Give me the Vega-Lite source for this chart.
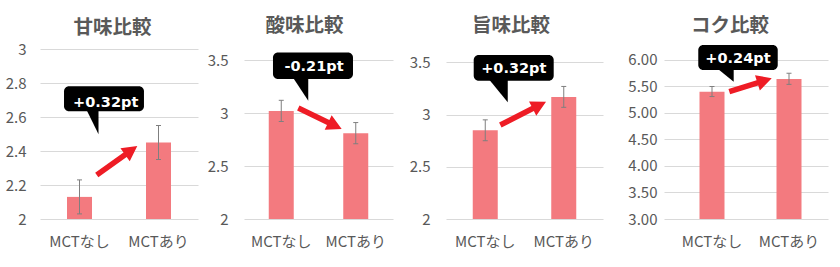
{
  "$schema": "https://vega.github.io/schema/vega-lite/v6.json",
  "padding": {"left": 5, "top": 15, "right": 5, "bottom": 0},
  "spacing": 16,
  "hconcat": [
    {
      "hconcat": [
        {
          "width": 158, "height": 179,
          "title": {"text": "甘味比較", "dx": -6.5, "dy": 2.5},
          "resolve": {"scale": {"x": "independent"}},
          "layer": [
            {
              "data": {"values": [
                {"group": "MCTなし", "mean": 2.13, "lo": 2.03, "hi": 2.23},
                {"group": "MCTあり", "mean": 2.45, "lo": 2.35, "hi": 2.55}
              ]},
              "encoding": {"x": {"field": "group", "type": "nominal", "sort": ["MCTなし", "MCTあり"], "title": null, "scale": {"paddingInner": 0, "paddingOuter": 0}}},
              "layer": [
                {"mark": {"type": "bar", "width": 25, "color": "#F37A7F"},
                 "encoding": {"y": {"field": "mean", "type": "quantitative", "title": null, "scale": {"domain": [2, 3.053], "nice": false, "zero": false}, "axis": {"values": [2, 2.2, 2.4, 2.6, 2.8, 3], "tickCount": 20, "format": "~g", "labelPadding": 14}}, "y2": {"datum": 2}}},
                {"mark": {"type": "rule", "color": "#7F7F7F", "strokeWidth": 1},
                 "encoding": {"y": {"field": "lo", "type": "quantitative", "title": null, "scale": {"domain": [2, 3.053], "nice": false, "zero": false}}, "y2": {"field": "hi"}}},
                {"mark": {"type": "tick", "color": "#7F7F7F", "size": 5, "thickness": 1, "opacity": 1},
                 "encoding": {"y": {"field": "lo", "type": "quantitative", "title": null, "scale": {"domain": [2, 3.053], "nice": false, "zero": false}}}},
                {"mark": {"type": "tick", "color": "#7F7F7F", "size": 5, "thickness": 1, "opacity": 1},
                 "encoding": {"y": {"field": "hi", "type": "quantitative", "title": null, "scale": {"domain": [2, 3.053], "nice": false, "zero": false}}}}
              ]
            },
            {
              "data": {"values": [
                {"label": "+0.32pt", "bx1": 0.304, "bx2": 1.316, "by1": 2.634, "by2": 2.781, "tx": 0.832, "ty": 2.659, "px": 0.666, "py": 2.566, "ax": 0.975, "ay": 2.344}
              ]},
              "layer": [
                {"mark": {"type": "rect", "color": "#000000", "cornerRadius": 5},
                 "encoding": {"x": {"field": "bx1", "type": "quantitative", "axis": null, "scale": {"domain": [0, 2], "nice": false, "zero": false}}, "x2": {"field": "bx2"}, "y": {"field": "by1", "type": "quantitative", "title": null, "scale": {"domain": [2, 3.053], "nice": false, "zero": false}}, "y2": {"field": "by2"}}},
                {"mark": {"type": "point", "shape": "M-0.513,-1.1 L0.513,-1.1 L0.513,1 Z", "filled": true, "color": "#000000", "size": 529, "opacity": 1, "strokeWidth": 0},
                 "encoding": {"x": {"field": "px", "type": "quantitative", "axis": null, "scale": {"domain": [0, 2], "nice": false, "zero": false}}, "y": {"field": "py", "type": "quantitative", "title": null, "scale": {"domain": [2, 3.053], "nice": false, "zero": false}}}},
                {"mark": {"type": "text", "color": "#FFFFFF", "font": "DejaVu Sans", "fontWeight": "bold", "fontSize": 14.5, "align": "center", "baseline": "alphabetic"},
                 "encoding": {"x": {"field": "tx", "type": "quantitative", "axis": null, "scale": {"domain": [0, 2], "nice": false, "zero": false}}, "y": {"field": "ty", "type": "quantitative", "title": null, "scale": {"domain": [2, 3.053], "nice": false, "zero": false}}, "text": {"field": "label"}}},
                {"mark": {"type": "point", "shape": "M0,-1 L0.321,-0.398 L0.11,-0.398 L0.11,1 L-0.11,1 L-0.11,-0.398 L-0.321,-0.398 Z", "filled": true, "color": "#EE1C25", "size": 2480, "angle": 54.5, "opacity": 1, "strokeWidth": 0},
                 "encoding": {"x": {"field": "ax", "type": "quantitative", "axis": null, "scale": {"domain": [0, 2], "nice": false, "zero": false}}, "y": {"field": "ay", "type": "quantitative", "title": null, "scale": {"domain": [2, 3.053], "nice": false, "zero": false}}}}
              ]
            }
          ]
        },
        {
          "width": 149, "height": 179,
          "title": {"text": "酸味比較", "dx": -14},
          "resolve": {"scale": {"x": "independent"}},
          "layer": [
            {
              "data": {"values": [
                {"group": "MCTなし", "mean": 3.02, "lo": 2.92, "hi": 3.12},
                {"group": "MCTあり", "mean": 2.81, "lo": 2.71, "hi": 2.91}
              ]},
              "encoding": {"x": {"field": "group", "type": "nominal", "sort": ["MCTなし", "MCTあり"], "title": null, "scale": {"paddingInner": 0, "paddingOuter": 0}}},
              "layer": [
                {"mark": {"type": "bar", "width": 25, "color": "#F37A7F"},
                 "encoding": {"y": {"field": "mean", "type": "quantitative", "title": null, "scale": {"domain": [2, 3.689], "nice": false, "zero": false}, "axis": {"values": [2, 2.5, 3, 3.5], "tickCount": 20, "format": "~g", "labelPadding": 16}}, "y2": {"datum": 2}}},
                {"mark": {"type": "rule", "color": "#7F7F7F", "strokeWidth": 1},
                 "encoding": {"y": {"field": "lo", "type": "quantitative", "title": null, "scale": {"domain": [2, 3.689], "nice": false, "zero": false}}, "y2": {"field": "hi"}}},
                {"mark": {"type": "tick", "color": "#7F7F7F", "size": 5, "thickness": 1, "opacity": 1},
                 "encoding": {"y": {"field": "lo", "type": "quantitative", "title": null, "scale": {"domain": [2, 3.689], "nice": false, "zero": false}}}},
                {"mark": {"type": "tick", "color": "#7F7F7F", "size": 5, "thickness": 1, "opacity": 1},
                 "encoding": {"y": {"field": "hi", "type": "quantitative", "title": null, "scale": {"domain": [2, 3.689], "nice": false, "zero": false}}}}
              ]
            },
            {
              "data": {"values": [
                {"label": "-0.21pt", "bx1": 0.389, "bx2": 1.463, "by1": 3.321, "by2": 3.572, "tx": 0.94, "ty": 3.392, "px": 0.762, "py": 3.218, "ax": 1.02, "ay": 2.948}
              ]},
              "layer": [
                {"mark": {"type": "rect", "color": "#000000", "cornerRadius": 5},
                 "encoding": {"x": {"field": "bx1", "type": "quantitative", "axis": null, "scale": {"domain": [0, 2], "nice": false, "zero": false}}, "x2": {"field": "bx2"}, "y": {"field": "by1", "type": "quantitative", "title": null, "scale": {"domain": [2, 3.689], "nice": false, "zero": false}}, "y2": {"field": "by2"}}},
                {"mark": {"type": "point", "shape": "M-0.691,-1.1 L0.691,-1.1 L0.691,1 Z", "filled": true, "color": "#000000", "size": 471, "opacity": 1, "strokeWidth": 0},
                 "encoding": {"x": {"field": "px", "type": "quantitative", "axis": null, "scale": {"domain": [0, 2], "nice": false, "zero": false}}, "y": {"field": "py", "type": "quantitative", "title": null, "scale": {"domain": [2, 3.689], "nice": false, "zero": false}}}},
                {"mark": {"type": "text", "color": "#FFFFFF", "font": "DejaVu Sans", "fontWeight": "bold", "fontSize": 14.5, "align": "center", "baseline": "alphabetic"},
                 "encoding": {"x": {"field": "tx", "type": "quantitative", "axis": null, "scale": {"domain": [0, 2], "nice": false, "zero": false}}, "y": {"field": "ty", "type": "quantitative", "title": null, "scale": {"domain": [2, 3.689], "nice": false, "zero": false}}, "text": {"field": "label"}}},
                {"mark": {"type": "point", "shape": "M0,-1 L0.332,-0.378 L0.114,-0.378 L0.114,1 L-0.114,1 L-0.114,-0.378 L-0.332,-0.378 Z", "filled": true, "color": "#EE1C25", "size": 2323, "angle": 115.8, "opacity": 1, "strokeWidth": 0},
                 "encoding": {"x": {"field": "ax", "type": "quantitative", "axis": null, "scale": {"domain": [0, 2], "nice": false, "zero": false}}, "y": {"field": "ay", "type": "quantitative", "title": null, "scale": {"domain": [2, 3.689], "nice": false, "zero": false}}}}
              ]
            }
          ]
        }
      ],
      "spacing": 46,
      "bounds": "flush"
    },
    {
      "hconcat": [
        {
          "width": 157, "height": 179,
          "title": {"text": "旨味比較", "dx": -13.5},
          "resolve": {"scale": {"x": "independent"}},
          "layer": [
            {
              "data": {"values": [
                {"group": "MCTなし", "mean": 2.85, "lo": 2.75, "hi": 2.95},
                {"group": "MCTあり", "mean": 3.17, "lo": 3.07, "hi": 3.27}
              ]},
              "encoding": {"x": {"field": "group", "type": "nominal", "sort": ["MCTなし", "MCTあり"], "title": null, "scale": {"paddingInner": 0, "paddingOuter": 0}}},
              "layer": [
                {"mark": {"type": "bar", "width": 25, "color": "#F37A7F"},
                 "encoding": {"y": {"field": "mean", "type": "quantitative", "title": null, "scale": {"domain": [2, 3.715], "nice": false, "zero": false}, "axis": {"values": [2, 2.5, 3, 3.5], "tickCount": 20, "format": "~g", "labelPadding": 16}}, "y2": {"datum": 2}}},
                {"mark": {"type": "rule", "color": "#7F7F7F", "strokeWidth": 1},
                 "encoding": {"y": {"field": "lo", "type": "quantitative", "title": null, "scale": {"domain": [2, 3.715], "nice": false, "zero": false}}, "y2": {"field": "hi"}}},
                {"mark": {"type": "tick", "color": "#7F7F7F", "size": 5, "thickness": 1, "opacity": 1},
                 "encoding": {"y": {"field": "lo", "type": "quantitative", "title": null, "scale": {"domain": [2, 3.715], "nice": false, "zero": false}}}},
                {"mark": {"type": "tick", "color": "#7F7F7F", "size": 5, "thickness": 1, "opacity": 1},
                 "encoding": {"y": {"field": "hi", "type": "quantitative", "title": null, "scale": {"domain": [2, 3.715], "nice": false, "zero": false}}}}
              ]
            },
            {
              "data": {"values": [
                {"label": "+0.32pt", "bx1": 0.353, "bx2": 1.372, "by1": 3.325, "by2": 3.571, "tx": 0.864, "ty": 3.398, "px": 0.669, "py": 3.221, "ax": 0.983, "ay": 3.012}
              ]},
              "layer": [
                {"mark": {"type": "rect", "color": "#000000", "cornerRadius": 5},
                 "encoding": {"x": {"field": "bx1", "type": "quantitative", "axis": null, "scale": {"domain": [0, 2], "nice": false, "zero": false}}, "x2": {"field": "bx2"}, "y": {"field": "by1", "type": "quantitative", "title": null, "scale": {"domain": [2, 3.715], "nice": false, "zero": false}}, "y2": {"field": "by2"}}},
                {"mark": {"type": "point", "shape": "M-0.852,-1.1 L0.852,-1.1 L0.852,1 Z", "filled": true, "color": "#000000", "size": 467, "opacity": 1, "strokeWidth": 0},
                 "encoding": {"x": {"field": "px", "type": "quantitative", "axis": null, "scale": {"domain": [0, 2], "nice": false, "zero": false}}, "y": {"field": "py", "type": "quantitative", "title": null, "scale": {"domain": [2, 3.715], "nice": false, "zero": false}}}},
                {"mark": {"type": "text", "color": "#FFFFFF", "font": "DejaVu Sans", "fontWeight": "bold", "fontSize": 14.5, "align": "center", "baseline": "alphabetic"},
                 "encoding": {"x": {"field": "tx", "type": "quantitative", "axis": null, "scale": {"domain": [0, 2], "nice": false, "zero": false}}, "y": {"field": "ty", "type": "quantitative", "title": null, "scale": {"domain": [2, 3.715], "nice": false, "zero": false}}, "text": {"field": "label"}}},
                {"mark": {"type": "point", "shape": "M0,-1 L0.312,-0.415 L0.107,-0.415 L0.107,1 L-0.107,1 L-0.107,-0.415 L-0.312,-0.415 Z", "filled": true, "color": "#EE1C25", "size": 2632, "angle": 63, "opacity": 1, "strokeWidth": 0},
                 "encoding": {"x": {"field": "ax", "type": "quantitative", "axis": null, "scale": {"domain": [0, 2], "nice": false, "zero": false}}, "y": {"field": "ay", "type": "quantitative", "title": null, "scale": {"domain": [2, 3.715], "nice": false, "zero": false}}}}
              ]
            }
          ]
        },
        {
          "width": 164, "height": 179,
          "title": {"text": "コク比較", "dx": -16},
          "resolve": {"scale": {"x": "independent"}},
          "layer": [
            {
              "data": {"values": [
                {"group": "MCTなし", "mean": 5.4, "lo": 5.31, "hi": 5.5},
                {"group": "MCTあり", "mean": 5.64, "lo": 5.54, "hi": 5.75}
              ]},
              "encoding": {"x": {"field": "group", "type": "nominal", "sort": ["MCTなし", "MCTあり"], "title": null, "scale": {"paddingInner": 0, "paddingOuter": 0.065, "align": 0.95}}},
              "layer": [
                {"mark": {"type": "bar", "width": 25, "color": "#F37A7F"},
                 "encoding": {"y": {"field": "mean", "type": "quantitative", "title": null, "scale": {"domain": [3, 6.377], "nice": false, "zero": false}, "axis": {"values": [3, 3.5, 4, 4.5, 5, 5.5, 6], "tickCount": 20, "format": ".2f", "labelPadding": 7}}, "y2": {"datum": 3}}},
                {"mark": {"type": "rule", "color": "#7F7F7F", "strokeWidth": 1},
                 "encoding": {"y": {"field": "lo", "type": "quantitative", "title": null, "scale": {"domain": [3, 6.377], "nice": false, "zero": false}}, "y2": {"field": "hi"}}},
                {"mark": {"type": "tick", "color": "#7F7F7F", "size": 5, "thickness": 1, "opacity": 1},
                 "encoding": {"y": {"field": "lo", "type": "quantitative", "title": null, "scale": {"domain": [3, 6.377], "nice": false, "zero": false}}}},
                {"mark": {"type": "tick", "color": "#7F7F7F", "size": 5, "thickness": 1, "opacity": 1},
                 "encoding": {"y": {"field": "hi", "type": "quantitative", "title": null, "scale": {"domain": [3, 6.377], "nice": false, "zero": false}}}}
              ]
            },
            {
              "data": {"values": [
                {"label": "+0.24pt", "bx1": 0.418, "bx2": 1.387, "by1": 5.811, "by2": 6.283, "tx": 0.902, "ty": 5.949, "px": 0.756, "py": 5.702, "ax": 1.055, "ay": 5.528}
              ]},
              "layer": [
                {"mark": {"type": "rect", "color": "#000000", "cornerRadius": 5},
                 "encoding": {"x": {"field": "bx1", "type": "quantitative", "axis": null, "scale": {"domain": [0, 2], "nice": false, "zero": false}}, "x2": {"field": "bx2"}, "y": {"field": "by1", "type": "quantitative", "title": null, "scale": {"domain": [3, 6.377], "nice": false, "zero": false}}, "y2": {"field": "by2"}}},
                {"mark": {"type": "point", "shape": "M-1,-0.86 L1,-0.86 L1,0.76 Z", "filled": true, "color": "#000000", "size": 237, "opacity": 1, "strokeWidth": 0},
                 "encoding": {"x": {"field": "px", "type": "quantitative", "axis": null, "scale": {"domain": [0, 2], "nice": false, "zero": false}}, "y": {"field": "py", "type": "quantitative", "title": null, "scale": {"domain": [3, 6.377], "nice": false, "zero": false}}}},
                {"mark": {"type": "text", "color": "#FFFFFF", "font": "DejaVu Sans", "fontWeight": "bold", "fontSize": 14.5, "align": "center", "baseline": "alphabetic"},
                 "encoding": {"x": {"field": "tx", "type": "quantitative", "axis": null, "scale": {"domain": [0, 2], "nice": false, "zero": false}}, "y": {"field": "ty", "type": "quantitative", "title": null, "scale": {"domain": [3, 6.377], "nice": false, "zero": false}}, "text": {"field": "label"}}},
                {"mark": {"type": "point", "shape": "M0,-1 L0.36,-0.326 L0.124,-0.326 L0.124,1 L-0.124,1 L-0.124,-0.326 L-0.36,-0.326 Z", "filled": true, "color": "#EE1C25", "size": 1980, "angle": 72.5, "opacity": 1, "strokeWidth": 0},
                 "encoding": {"x": {"field": "ax", "type": "quantitative", "axis": null, "scale": {"domain": [0, 2], "nice": false, "zero": false}}, "y": {"field": "ay", "type": "quantitative", "title": null, "scale": {"domain": [3, 6.377], "nice": false, "zero": false}}}}
              ]
            }
          ]
        }
      ],
      "spacing": 61,
      "bounds": "flush"
    }
  ],
  "config": {
    "view": {"stroke": null},
    "axis": {"domain": false, "ticks": false, "labelColor": "#595959", "labelFont": "Noto Sans CJK JP", "gridColor": "#D9D9D9", "gridWidth": 1, "labelOverlap": false},
    "axisX": {"grid": false, "labelAngle": 0, "labelFontSize": 15, "labelPadding": 15},
    "axisY": {"grid": true, "labelFontSize": 15, "labelOverlap": false},
    "title": {"font": "Noto Sans CJK JP", "fontSize": 19.5, "fontWeight": "bold", "color": "#595959", "anchor": "middle", "frame": "group", "offset": 4}
  }
}
